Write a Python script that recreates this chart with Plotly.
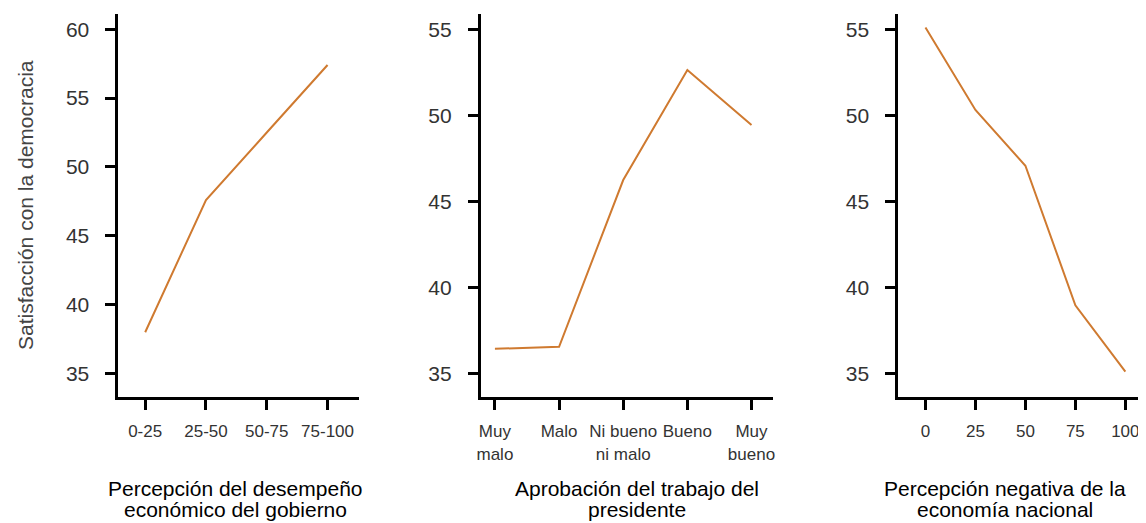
import plotly.graph_objects as go

# Panel 1
cat1 = ["0-25", "25-50", "50-75", "75-100"]
val1 = [38.0, 47.6, 52.5, 57.4]
# Panel 2
cat2 = ["Muy<br>malo", "Malo", "Ni bueno<br>ni malo", "Bueno", "Muy<br>bueno"]
val2 = [36.45, 36.57, 46.26, 52.66, 49.46]
# Panel 3
x3 = [0, 25, 50, 75, 100]
val3 = [55.12, 50.33, 47.09, 38.98, 35.12]

ytitle = "Satisfacción con la democracia"
xtitles = [["Percepción del desempeño", "económico del gobierno"],
           ["Aprobación del trabajo del", "presidente"],
           ["Percepción negativa de la", "economía nacional"]]

LINE = "#CF7A30"
FONT = "Liberation Sans"
OFF = 8  # page body margin
W, H = 1146 - OFF, 523 - OFF


def xp(px):
    return (px - OFF) / W


def yp(py):
    return 1 - (py - OFF) / H


fig = go.Figure()
fig.add_trace(go.Scatter(x=list(range(len(cat1))), y=val1, mode="lines",
                         line=dict(color=LINE, width=2), xaxis="x", yaxis="y"))
fig.add_trace(go.Scatter(x=list(range(len(cat2))), y=val2, mode="lines",
                         line=dict(color=LINE, width=2), xaxis="x2", yaxis="y2"))
fig.add_trace(go.Scatter(x=x3, y=val3, mode="lines",
                         line=dict(color=LINE, width=2), xaxis="x3", yaxis="y3"))

ydom = [yp(397), yp(14)]
xdoms = [[xp(115), xp(357)], [xp(479.3), xp(772.7)], [xp(899), xp(1140.7)]]

common_axis = dict(showline=True, linecolor="black", linewidth=3, ticks="outside",
                   ticklen=10, tickwidth=3, tickcolor="black", showgrid=False,
                   zeroline=False, fixedrange=True)
XT = dict(size=17, color="#333333")
YT = dict(size=21, color="#333333")

fig.update_layout(
    width=W, height=H, margin=dict(l=0, r=0, t=0, b=0),
    paper_bgcolor="white", plot_bgcolor="white", showlegend=False,
    font=dict(family=FONT, color="#333333"),
    xaxis=dict(common_axis, domain=xdoms[0], anchor="y", range=[-0.44, 3.52],
               tickmode="array", tickvals=list(range(len(cat1))), ticktext=cat1,
               tickfont=XT, ticklabelstandoff=7),
    yaxis=dict(common_axis, domain=ydom, anchor="x", range=[33.3, 61.1],
               tickvals=[35, 40, 45, 50, 55, 60], tickfont=YT, ticklabelstandoff=12),
    xaxis2=dict(common_axis, domain=xdoms[1], anchor="y2", range=[-0.22, 4.33],
                tickmode="array", tickvals=list(range(len(cat2))), ticktext=cat2,
                tickfont=XT, ticklabelstandoff=7),
    yaxis2=dict(common_axis, domain=ydom, anchor="x2", range=[33.65, 55.91],
                tickvals=[35, 40, 45, 50, 55], tickfont=YT, ticklabelstandoff=12),
    xaxis3=dict(common_axis, domain=xdoms[2], anchor="y3", range=[-13.6, 106.7],
                tickvals=x3, tickfont=XT, ticklabelstandoff=7),
    yaxis3=dict(common_axis, domain=ydom, anchor="x3", range=[33.65, 55.91],
                tickvals=[35, 40, 45, 50, 55], tickfont=YT, ticklabelstandoff=12),
)

annots = [
    dict(text=ytitle, x=xp(21), y=yp(205), xref="paper", yref="paper",
         textangle=-90, showarrow=False, font=dict(size=21, color="#444444"),
         xanchor="center", yanchor="middle"),
]
centers = [233, 636, 1006]
line_mid = [488, 509]
for cx, lines in zip(centers, xtitles):
    for ly, t in zip(line_mid, lines):
        annots.append(dict(text=t, x=xp(cx), y=yp(ly), xref="paper", yref="paper",
                           showarrow=False, font=dict(size=21, color="black"),
                           xanchor="center", yanchor="middle"))
fig.update_layout(annotations=annots)

fig.write_html("out.html")
